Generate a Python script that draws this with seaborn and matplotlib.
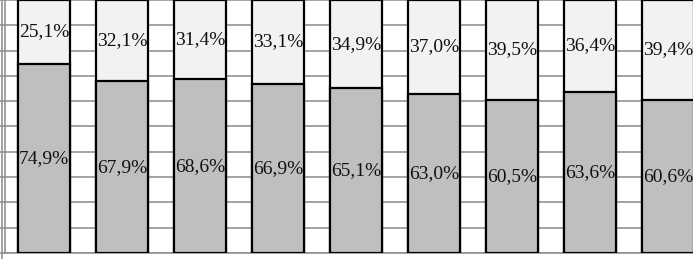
import matplotlib
matplotlib.use("Agg")
import matplotlib.pyplot as plt
import seaborn as sns
import pandas as pd
import numpy as np
from matplotlib.lines import Line2D

categories = ["1", "2", "3", "4", "5", "6", "7", "8", "9"]
lower_vals = [74.9, 67.9, 68.6, 66.9, 65.1, 63.0, 60.5, 63.6, 60.6]
upper_vals = [25.1, 32.1, 31.4, 33.1, 34.9, 37.0, 39.5, 36.4, 39.4]

df = pd.DataFrame({"cat": categories, "lower": lower_vals, "upper": upper_vals})
df["total"] = df["lower"] + df["upper"]

sns.set_style("white")
plt.rcParams["font.family"] = ["Liberation Serif", "DejaVu Serif"]

fig = plt.figure(figsize=(6.93, 2.59), dpi=100)
W, H = 693, 259
ax = fig.add_axes([5 / W, 6 / H, 702 / W, 253 / H])

sns.barplot(data=df, x="cat", y="total", color="#f2f2f2", saturation=1,
            width=0.66, edgecolor="black", linewidth=1.6, ax=ax, zorder=3)
sns.barplot(data=df, x="cat", y="lower", color="#bfbfbf", saturation=1,
            width=0.66, edgecolor="black", linewidth=1.6, ax=ax, zorder=4)

ax.set_ylim(0, 100)
ax.set_xlim(-0.5, len(categories) - 0.5)
ax.set_yticks(np.arange(0, 101, 10))
ax.yaxis.grid(True, color="#8a8a8a", linewidth=1.1, zorder=0)
ax.set_axisbelow(True)
ax.set_yticklabels([])
ax.set_xticks(np.arange(len(categories)))
ax.set_xticklabels([])
ax.set_xticks(np.arange(len(categories)) + 0.5, minor=True)
ax.tick_params(axis="x", which="major", length=0)
ax.tick_params(axis="x", which="minor", length=6, color="#8a8a8a", width=1.1, direction="out")
ax.tick_params(axis="y", which="major", length=5, color="#8a8a8a", width=1.1, direction="out", left=True)
ax.set_xlabel("")
ax.set_ylabel("")
for s in ["top", "right"]:
    ax.spines[s].set_visible(False)
for s in ["left", "bottom"]:
    ax.spines[s].set_color("#8a8a8a")
    ax.spines[s].set_linewidth(1.1)

fmt = lambda v: f"{v:.1f}".replace(".", ",") + "%"
for i, (lo, up) in enumerate(zip(lower_vals, upper_vals)):
    ax.text(i, lo / 2, fmt(lo), ha="center", va="center", fontsize=14, color="#111111", zorder=6)
    ax.text(i, lo + up / 2, fmt(up), ha="center", va="center", fontsize=14, color="#111111", zorder=6)

fig.add_artist(Line2D([1.5 / W, 1.5 / W], [0, 1], color="#8a8a8a", linewidth=1.1))

fig.savefig("out.png", dpi=100)
